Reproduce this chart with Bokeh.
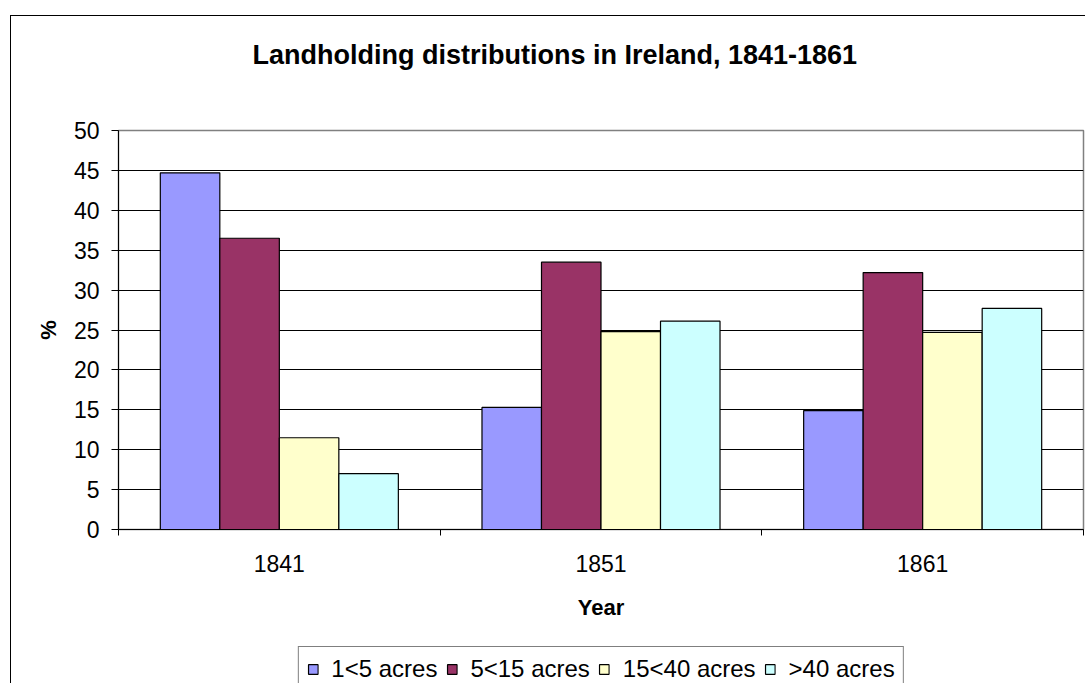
from bokeh.plotting import figure
from bokeh.models import (Range1d, FixedTicker, SingleIntervalTicker, Legend,
                          LegendItem, ColumnDataSource, Title, LinearAxis,
                          Plot, VBar)
from bokeh.layouts import column
from bokeh.transform import dodge
from bokeh.embed import file_html
from bokeh.resources import INLINE

# ---- data ----
years = ["1841", "1851", "1861"]
series_names = ["1<5 acres", "5<15 acres", "15<40 acres", ">40 acres"]
acres_1_5 = [44.7, 15.3, 14.9]
acres_5_15 = [36.5, 33.5, 32.2]
acres_15_40 = [11.5, 24.8, 24.7]
acres_40_plus = [7.0, 26.1, 27.7]
series_colors = ["#9999FF", "#993366", "#FFFFCC", "#CCFFFF"]

FONT = "Liberation Sans"

x_centers = [i + 0.5 for i in range(len(years))]
src = ColumnDataSource(dict(x=x_centers, s0=acres_1_5, s1=acres_5_15,
                            s2=acres_15_40, s3=acres_40_plus))
cols = ["s0", "s1", "s2", "s3"]

p = figure(width=1074, height=630, output_backend="svg", toolbar_location=None,
           title=None,
           x_range=Range1d(0, len(years)), y_range=Range1d(0, 50),
           min_border_left=107, min_border_right=2, min_border_top=114,
           min_border_bottom=117, background_fill_color="white",
           border_fill_color="white")

p.outline_line_color = "#808080"
p.outline_line_width = 1.5

bar_w = 0.185
offsets = [-1.5 * bar_w, -0.5 * bar_w, 0.5 * bar_w, 1.5 * bar_w]
for k, col in enumerate(cols):
    p.vbar(x=dodge("x", offsets[k], range=p.x_range), top=col, bottom=0,
           width=bar_w, source=src, fill_color=series_colors[k],
           line_color="black", line_width=1.2)

# y axis
yax = p.yaxis[0]
yax.ticker = SingleIntervalTicker(interval=5, num_minor_ticks=0)
yax.axis_label = "%"
yax.axis_label_text_font = FONT
yax.axis_label_text_font_size = "22px"
yax.axis_label_text_font_style = "bold"
yax.axis_label_text_color = "black"
yax.axis_label_standoff = 10
yax.major_label_text_font = FONT
yax.major_label_text_font_size = "23px"
yax.major_label_text_color = "black"
yax.major_label_standoff = 12
yax.major_tick_out = 7
yax.major_tick_in = 0
yax.minor_tick_out = 0
yax.minor_tick_in = 0
yax.axis_line_color = "black"
yax.major_tick_line_color = "black"

# x axis
xax = p.xaxis[0]
xax.ticker = FixedTicker(ticks=x_centers, minor_ticks=list(range(len(years) + 1)))
xax.major_label_overrides = {x: y for x, y in zip(x_centers, years)}
xax.axis_label = "Year"
xax.axis_label_text_font = FONT
xax.axis_label_text_font_size = "22px"
xax.axis_label_text_font_style = "bold"
xax.axis_label_text_color = "black"
xax.axis_label_standoff = 20
xax.major_label_text_font = FONT
xax.major_label_text_font_size = "23px"
xax.major_label_text_color = "black"
xax.major_label_standoff = 19
xax.major_tick_out = 0
xax.major_tick_in = 0
xax.minor_tick_out = 6
xax.minor_tick_in = 0
xax.minor_tick_line_color = "black"
xax.axis_line_color = "black"

p.xgrid.grid_line_color = None
p.ygrid.grid_line_color = "black"
p.ygrid.grid_line_width = 1

# spacer between frame and title (invisible axis with one hidden tick)
spacer = LinearAxis(ticker=FixedTicker(ticks=[x_centers[1]], minor_ticks=[]),
                    major_tick_out=61, major_tick_in=0, major_label_standoff=0,
                    major_label_text_font_size="1px", major_label_text_color=None,
                    axis_line_color=None, major_tick_line_color=None,
                    minor_tick_line_color=None)
p.add_layout(spacer, "above")

title = Title(text="Landholding distributions in Ireland, 1841-1861",
              text_font=FONT, text_font_size="27px", text_font_style="bold",
              text_color="black", align="left", offset=134, standoff=0)
p.add_layout(title, "above")

# ---- legend strip below the chart (same frame columns as the chart) ----
leg = Plot(width=1074, height=37, output_backend="svg", toolbar_location=None,
           x_range=Range1d(0, len(years)), y_range=Range1d(100, 101),
           min_border_left=107, min_border_right=2, min_border_top=0,
           min_border_bottom=0, outline_line_color=None,
           background_fill_color="white", border_fill_color="white")
items = []
for k, (name, color) in enumerate(zip(series_names, series_colors)):
    # same series; the strip's y range lies above the data, so only the swatch shows
    r = leg.add_glyph(src, VBar(x="x", top=cols[k], bottom=0, width=bar_w,
                                fill_color=color, line_color="black",
                                line_width=1.2))
    items.append(LegendItem(label=name, renderers=[r]))

legend = Legend(items=items, orientation="horizontal", location="top_center")
legend.label_text_font = FONT
legend.label_text_font_size = "24px"
legend.label_text_color = "black"
legend.glyph_width = 12
legend.glyph_height = 12
legend.label_standoff = 13
legend.spacing = 8
legend.padding = 8
legend.margin = 0
legend.border_line_color = "black"
legend.border_line_width = 1
legend.background_fill_color = "white"
leg.add_layout(legend, "center")

layout = column(p, leg, spacing=0,
                styles={"margin-left": "10px", "margin-top": "15px",
                        "border-left": "1px solid #000",
                        "border-top": "1px solid #000"})

open("out.html", "w").write(file_html(layout, INLINE))
